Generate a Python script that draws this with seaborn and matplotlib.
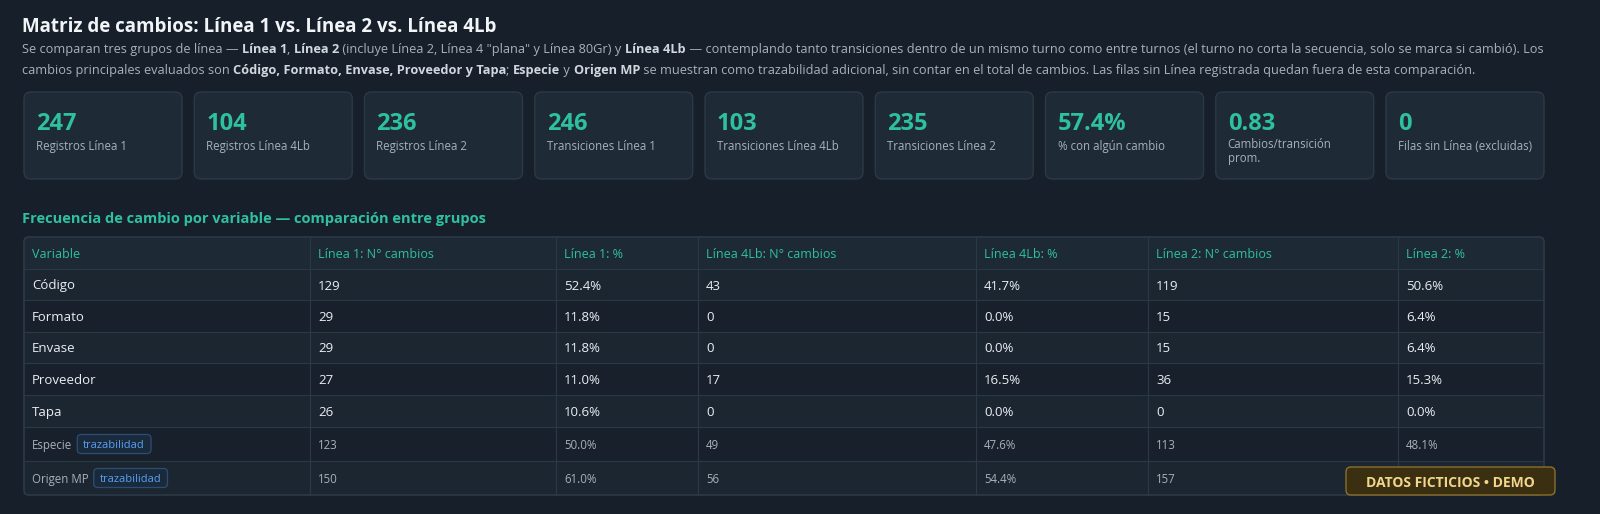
import matplotlib
matplotlib.use("Agg")
import matplotlib.pyplot as plt
import seaborn as sns
from matplotlib.patches import FancyBboxPatch, Rectangle

# datos
kpi_values = ["247", "104", "236", "246", "103", "235", "57.4%", "0.83", "0"]
kpi_labels = ["Registros Línea 1", "Registros Línea 4Lb", "Registros Línea 2",
              "Transiciones Línea 1", "Transiciones Línea 4Lb", "Transiciones Línea 2",
              "% con algún cambio", "Cambios/transición\nprom.", "Filas sin Línea (excluidas)"]
columns = ["Variable", "Línea 1: N° cambios", "Línea 1: %", "Línea 4Lb: N° cambios",
           "Línea 4Lb: %", "Línea 2: N° cambios", "Línea 2: %"]
variables = ["Código", "Formato", "Envase", "Proveedor", "Tapa", "Especie", "Origen MP"]
trazabilidad = [False, False, False, False, False, True, True]
l1_n = [129, 29, 29, 27, 26, 123, 150]
l1_pct = [52.4, 11.8, 11.8, 11.0, 10.6, 50.0, 61.0]
l4_n = [43, 0, 0, 17, 0, 49, 56]
l4_pct = [41.7, 0.0, 0.0, 16.5, 0.0, 47.6, 54.4]
l2_n = [119, 15, 15, 36, 0, 113, 157]
l2_pct = [50.6, 6.4, 6.4, 15.3, 0.0, 48.1, None]

BG = "#17202a"
CARD = "#1e2a36"
EDGE = "#2b3947"
TEAL = "#2fc0a0"
WHITE = "#e9eef3"
GRAY = "#a7b1bc"
FONT = ["Open Sans", "DejaVu Sans"]

sns.set_theme(style="dark")
plt.rcParams["font.family"] = FONT

fig = plt.figure(figsize=(16, 5.14), dpi=100)
fig.patch.set_facecolor(BG)
ax = fig.add_axes([0, 0, 1, 1])
ax.set_xlim(0, 1600)
ax.set_ylim(514, 0)
ax.axis("off")
ax.set_facecolor(BG)
fig.canvas.draw()
renderer = fig.canvas.get_renderer()


def width_of(t):
    return t.get_window_extent(renderer).width


def rich_line(x, y, parts, size):
    for txt, bold in parts:
        t = ax.text(x, y, txt, fontsize=size, color=GRAY if not bold else "#d0d7de",
                    fontweight="bold" if bold else "normal", va="center_baseline", ha="left")
        x += width_of(t)
    return x


ax.text(22, 24, "Matriz de cambios: Línea 1 vs. Línea 2 vs. Línea 4Lb", fontsize=13.5,
        fontweight="bold", color="#f2f5f8", va="center_baseline")

line1 = [("Se comparan tres grupos de línea — ", False), ("Línea 1", True), (", ", False),
         ("Línea 2", True), (' (incluye Línea 2, Línea 4 "plana" y Línea 80Gr) y ', False),
         ("Línea 4Lb", True),
         (" — contemplando tanto transiciones dentro de un mismo turno como entre turnos "
          "(el turno no corta la secuencia, solo se marca si cambió). Los", False)]
line2 = [("cambios principales evaluados son ", False),
         ("Código, Formato, Envase, Proveedor y Tapa", True), ("; ", False), ("Especie", True),
         (" y ", False), ("Origen MP", True),
         (" se muestran como trazabilidad adicional, sin contar en el total de cambios. "
          "Las filas sin Línea registrada quedan fuera de esta comparación.", False)]

# ajustar tamaño para que la primera línea llene el ancho
size = 9
xend = rich_line(22, -100, line1, size)
for t in list(ax.texts)[1:]:
    t.remove()
size = size * (1543 - 22) / (xend - 22)
rich_line(22, 48, line1, size)
rich_line(22, 69, line2, size)

# tarjetas KPI
card_w, gap = 158, 12.25
for i, (v, lab) in enumerate(zip(kpi_values, kpi_labels)):
    x0 = 24 + i * (card_w + gap)
    ax.add_patch(FancyBboxPatch((x0, 92), card_w, 87, boxstyle="round,pad=0,rounding_size=7",
                                fc=CARD, ec=EDGE, lw=1))
    ax.text(x0 + 12, 121, v, fontsize=17, fontweight="bold", color=TEAL, va="center_baseline")
    ax.text(x0 + 12, 138 if "\n" in lab else 145, lab, fontsize=8.3, color=GRAY,
            va="top" if "\n" in lab else "center_baseline", linespacing=1.1)

ax.text(22, 217, "Frecuencia de cambio por variable — comparación entre grupos", fontsize=10.5,
        fontweight="bold", color=TEAL, va="center_baseline")

# tabla
col_x = [24, 310, 556, 698, 976, 1148, 1398, 1544]
row_y = [237, 269, 300, 332, 363, 395, 427, 461, 495]
ax.add_patch(Rectangle((24, 237), 1520, 32, fc="#1d2935", ec="none"))
for r in range(7):
    fc = "#1c2631" if r % 2 == 0 else "#18212b"
    ax.add_patch(Rectangle((24, row_y[r + 1]), 1520, row_y[r + 2] - row_y[r + 1], fc=fc, ec="none"))
for y in row_y[1:-1]:
    ax.plot([24, 1544], [y, y], color=EDGE, lw=0.8)
for x in col_x[1:-1]:
    ax.plot([x, x], [237, 495], color=EDGE, lw=0.8)
ax.add_patch(FancyBboxPatch((24, 237), 1520, 258, boxstyle="round,pad=0,rounding_size=5",
                            fc="none", ec=EDGE, lw=1.2))

for c, name in enumerate(columns):
    ax.text(col_x[c] + 8, 253, name, fontsize=9, color=TEAL, va="center_baseline")

for r, var in enumerate(variables):
    yc = (row_y[r + 1] + row_y[r + 2]) / 2
    trace = trazabilidad[r]
    color = GRAY if trace else WHITE
    fs = 8.3 if trace else 9.5
    t = ax.text(col_x[0] + 8, yc, var, fontsize=fs, color=color, va="center_baseline")
    if trace:
        bx = col_x[0] + 8 + width_of(t) + 5
        b = ax.text(bx + 6, yc, "trazabilidad", fontsize=8, color="#5b9ff0", va="center_baseline")
        bw = width_of(b) + 12
        ax.add_patch(FancyBboxPatch((bx, yc - 9.5), bw, 19, boxstyle="round,pad=0,rounding_size=4",
                                    fc="#1a2a3d", ec="#2f4d72", lw=0.9, zorder=1.5))
    vals = [l1_n[r], l1_pct[r], l4_n[r], l4_pct[r], l2_n[r], l2_pct[r]]
    for c, v in enumerate(vals):
        if v is None:
            continue
        s = f"{v:.1f}%" if c % 2 == 1 else str(v)
        ax.text(col_x[c + 1] + 8, yc, s, fontsize=fs, color=color, va="center_baseline")

# marca de agua
ax.add_patch(FancyBboxPatch((1346, 467), 209, 28, boxstyle="round,pad=0,rounding_size=5",
                            fc="#3b2f12", ec="#8c6f2c", lw=1, zorder=5))
ax.text(1450.5, 481.5, "DATOS FICTICIOS • DEMO", fontsize=10, fontweight="bold",
        color="#f2d68c", ha="center", va="center_baseline", zorder=6)

fig.savefig("out.png", dpi=100, facecolor=BG)
